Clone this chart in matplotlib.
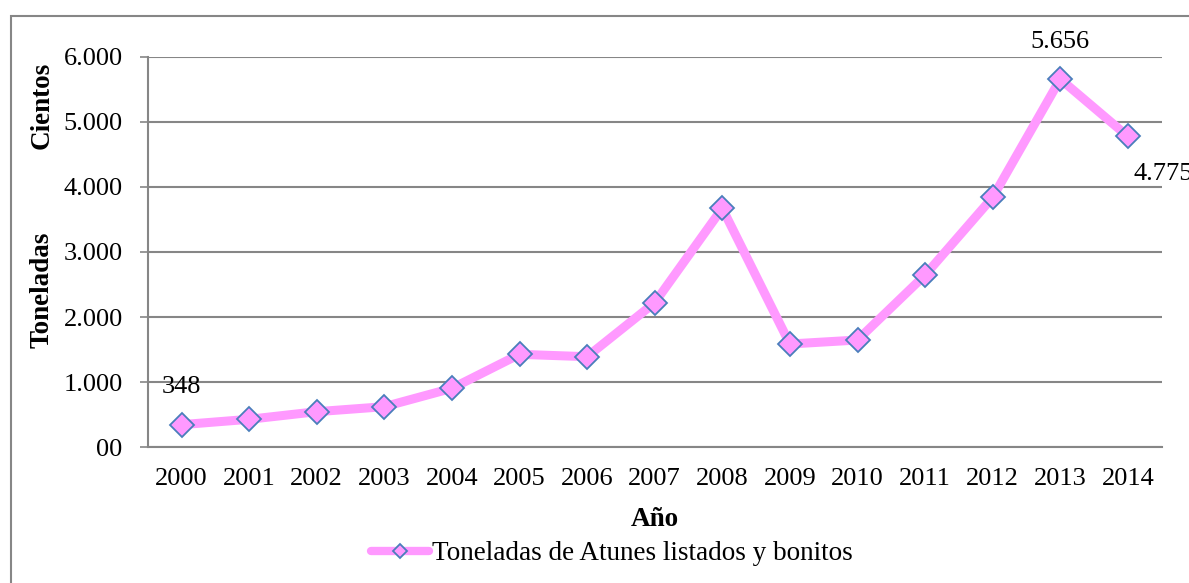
import matplotlib
matplotlib.use("Agg")
import matplotlib.pyplot as plt
from matplotlib.patches import Rectangle
from matplotlib.lines import Line2D

years = ["2000", "2001", "2002", "2003", "2004", "2005", "2006", "2007",
         "2008", "2009", "2010", "2011", "2012", "2013", "2014"]
toneladas = [348, 430, 547, 624, 906, 1428, 1392, 2221, 3671, 1587, 1648,
             2647, 3840, 5656, 4775]
ytick_vals = [0, 1000, 2000, 3000, 4000, 5000, 6000]
ytick_labels = ["00", "1.000", "2.000", "3.000", "4.000", "5.000", "6.000"]
series_name = "Toneladas de Atunes listados y bonitos"
labeled = {0: "348", 13: "5.656", 14: "4.775"}

plt.rcParams['font.family'] = ['Liberation Serif', 'DejaVu Serif']

W, H = 1189, 583
fig = plt.figure(figsize=(W / 100, H / 100), dpi=100)

ax_l, ax_r, ax_t, ax_b = 147.7, 1161.7, 56.7, 447.3
ax = fig.add_axes([ax_l / W, 1 - ax_b / H, (ax_r - ax_l) / W, (ax_b - ax_t) / H])

grid_c = "#868686"
pink = "#FF99FF"
blue = "#4A7EBB"
FS = 19
FS2 = 19.5
x = list(range(len(years)))
ax.plot(x, toneladas, color=pink, lw=6.5, marker="D", ms=12.5,
        mfc=pink, mec=blue, mew=1.3, solid_joinstyle="miter", zorder=3)

ax.set_xlim(-0.5, len(years) - 0.5)
ax.set_ylim(0, 6000)
ax.set_xticks(x)
ax.set_xticklabels(years, fontsize=FS)
ax.set_yticks(ytick_vals)
ax.set_yticklabels(ytick_labels, fontsize=FS)
ax.tick_params(axis="x", length=0, pad=15)
ax.tick_params(axis="y", length=6, width=1.2, color=grid_c, pad=12)
ax.yaxis.grid(True, color=grid_c, lw=1.5)
ax.set_axisbelow(True)
for s in ["top", "right"]:
    ax.spines[s].set_visible(False)
for s in ["left", "bottom"]:
    ax.spines[s].set_color(grid_c)
    ax.spines[s].set_linewidth(1.5)

# data labels
ax.annotate(labeled[0], (0, toneladas[0]), xytext=(0, 27), textcoords="offset points",
            ha="center", va="center", fontsize=FS)
ax.annotate(labeled[13], (13, toneladas[13]), xytext=(0, 27), textcoords="offset points",
            ha="center", va="center", fontsize=FS)
ax.annotate(labeled[14], (14, toneladas[14]), xytext=(4, -27), textcoords="offset points",
            ha="left", va="center", fontsize=FS, annotation_clip=False)

# axis titles
fig.text(42.5 / W, 1 - 105 / H, "Cientos", rotation=90, ha="center", va="center",
         fontsize=FS2, fontweight="bold")
fig.text(42.5 / W, 1 - 290 / H, "Toneladas", rotation=90, ha="center", va="center",
         fontsize=FS2, fontweight="bold")
fig.text(655 / W, 1 - 519 / H, "Año", ha="center", va="center",
         fontsize=FS2, fontweight="bold")

handle = Line2D([], [], color=pink, lw=6, marker="D", ms=7.6, mfc=pink,
                mec=blue, mew=1.3, solid_capstyle="round")
fig.legend([handle], [series_name], loc="center left",
           bbox_to_anchor=(371 / W, 1 - 554 / H), frameon=False,
           fontsize=FS2, handlelength=2.15, handletextpad=0.12, borderpad=0,
           borderaxespad=0)

# outer frame
fig.patches.append(Rectangle((11 / W, -0.1), 1.2, 1.1 - 16 / H, fill=False,
                             edgecolor=grid_c, lw=1.5, transform=fig.transFigure))

fig.savefig("out.png", dpi=100)
